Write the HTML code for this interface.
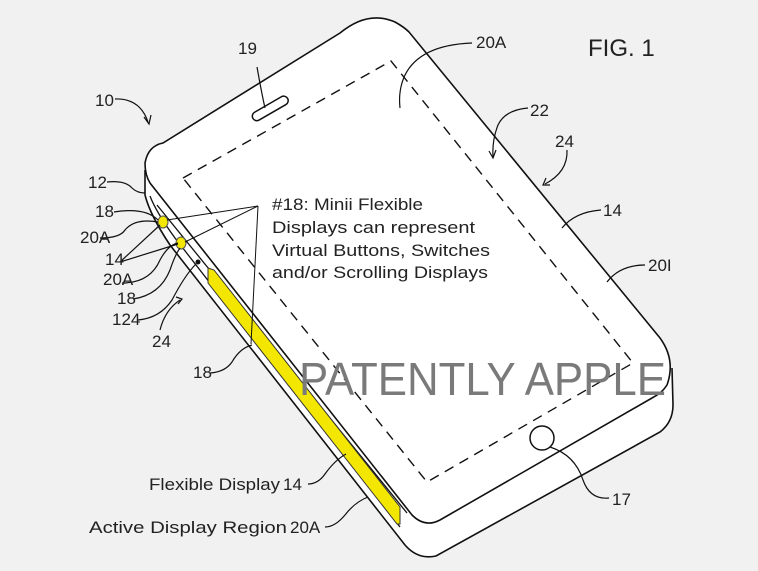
<!DOCTYPE html>
<html><head><meta charset="utf-8"><style>
html,body{margin:0;padding:0;background:#f1f1f1;}
svg{display:block}
text{font-family:"Liberation Sans",sans-serif;fill:#222;}
</style></head><body>
<svg width="758" height="571" viewBox="0 0 758 571" xmlns="http://www.w3.org/2000/svg">
<rect width="758" height="571" fill="#f1f1f1"/>
<!-- phone body (side) -->
<path d="M145,163 L145,195 Q150,215 170,245 L405,545 Q418,560 436,556 L660,432 Q673,422 673,405 L672,368 Z" fill="#fff" stroke="none"/>
<path d="M145,163 Q148,146 163,143 L340,33 Q368,10 395,22 Q404,27 409,32 L660,338 Q676,360 667,385 Q662,393 652,398 L440,520 Q425,528 412,515 L150,183 Q145,175 145,163 Z" fill="#fff" stroke="#111" stroke-width="1.6"/>
<path d="M145,170 L145,195 Q150,215 170,245 L405,545 Q418,560 436,556 L660,432 Q673,422 673,405 L672,368" fill="none" stroke="#111" stroke-width="1.6"/>
<!-- extra side lines -->
<path d="M150,196 Q156,212 175,238 L400,527" fill="none" stroke="#111" stroke-width="1.3"/>
<path d="M157,205 L407,513" fill="none" stroke="#111" stroke-width="1.3"/>
<!-- yellow strip -->
<polygon points="208,268 214,270 400,507 400,524 397,524 208,283" fill="#f3e600" stroke="#333" stroke-width="1"/>
<!-- dashed screen -->
<path d="M183,178 L391,61 L633,363 L427,482 Z" fill="none" stroke="#111" stroke-width="1.4" stroke-dasharray="10,7"/>
<!-- speaker -->
<rect x="250" y="104" width="40" height="9" rx="4.5" transform="rotate(-30 270 108)" fill="#fff" stroke="#111" stroke-width="1.5"/>
<!-- home button -->
<circle cx="542" cy="438" r="12" fill="#fff" stroke="#111" stroke-width="1.5"/>
<!-- buttons -->
<ellipse cx="163" cy="222" rx="5" ry="6" fill="#f3e600" stroke="#555"/>
<ellipse cx="181" cy="243" rx="5" ry="6" fill="#f3e600" stroke="#555"/>
<circle cx="198" cy="262" r="2.5" fill="#111"/>
<!-- callout lines -->
<g stroke="#111" stroke-width="1" fill="none">
<line x1="258" y1="206" x2="167" y2="220"/>
<line x1="258" y1="206" x2="185" y2="242"/>
<line x1="258" y1="206" x2="251" y2="344"/>
</g>
<!-- leaders -->
<g stroke="#111" stroke-width="1.2" fill="none">
<path d="M115,99 Q140,98 148,122"/>
<path d="M144,117 L149,124 L151,115"/>
<path d="M107,182 Q125,180 132,188 Q137,193 145,193"/>
<path d="M114,212 Q145,207 158,220"/>
<path d="M100,238 Q120,238 125,230 Q135,218 158,222"/>
<path d="M120,262 L160,225 M120,262 L178,244"/>
<path d="M122,283 Q150,283 160,260 Q168,245 178,243"/>
<path d="M133,299 Q160,295 170,270 Q175,255 180,248"/>
<path d="M138,320 Q160,318 172,300 Q185,275 196,264"/>
<path d="M160,330 Q165,310 180,300"/>
<path d="M176,297 L182,299 L178,304"/>
<path d="M210,373 Q225,372 232,362 Q240,348 252,345"/>
<path d="M257,67 Q262,95 265,108"/>
<path d="M472,43 Q420,45 405,75 Q398,90 400,108"/>
<path d="M528,108 Q505,110 498,125 Q492,140 493,157"/>
<path d="M489,151 L493,158 L496,150"/>
<path d="M567,150 Q568,172 545,184"/>
<path d="M546,178 L543,185 L550,185"/>
<path d="M601,210 Q575,212 562,228"/>
<path d="M645,265 Q620,265 607,282"/>
<path d="M609,498 Q590,500 583,480 Q575,455 550,447"/>
<path d="M308,484 Q318,484 325,474 Q335,460 346,454"/>
<path d="M325,527 Q335,527 345,515 Q355,502 368,497"/>
</g>
<!-- labels -->
<g font-size="17">
<text x="95" y="106">10</text>
<text x="88" y="188">12</text>
<text x="95" y="217">18</text>
<text x="80" y="243">20A</text>
<text x="105" y="265">14</text>
<text x="103" y="285">20A</text>
<text x="117" y="304">18</text>
<text x="112" y="325">124</text>
<text x="152" y="347">24</text>
<text x="193" y="378">18</text>
<text x="238" y="54">19</text>
<text x="476" y="48">20A</text>
<text x="530" y="116">22</text>
<text x="555" y="147">24</text>
<text x="603" y="216">14</text>
<text x="648" y="271">20I</text>
<text x="612" y="505">17</text>
<text x="149" y="490" textLength="131" lengthAdjust="spacingAndGlyphs">Flexible Display</text>
<text x="283" y="490">14</text>
<text x="89" y="533" textLength="198" lengthAdjust="spacingAndGlyphs">Active Display Region</text>
<text x="290" y="533">20A</text>
<text x="272" y="210" textLength="151" lengthAdjust="spacingAndGlyphs">#18: Minii Flexible</text>
<text x="272" y="233" textLength="203" lengthAdjust="spacingAndGlyphs">Displays can represent</text>
<text x="272" y="256" textLength="218" lengthAdjust="spacingAndGlyphs">Virtual Buttons, Switches</text>
<text x="272" y="278" textLength="216" lengthAdjust="spacingAndGlyphs">and/or Scrolling Displays</text>
</g>
<text x="588" y="56" font-size="24">FIG. 1</text>
<text x="299" y="395" font-size="46" style="fill:#7a7a7a" textLength="367" lengthAdjust="spacingAndGlyphs">PATENTLY APPLE</text>
</svg>
</body></html>
